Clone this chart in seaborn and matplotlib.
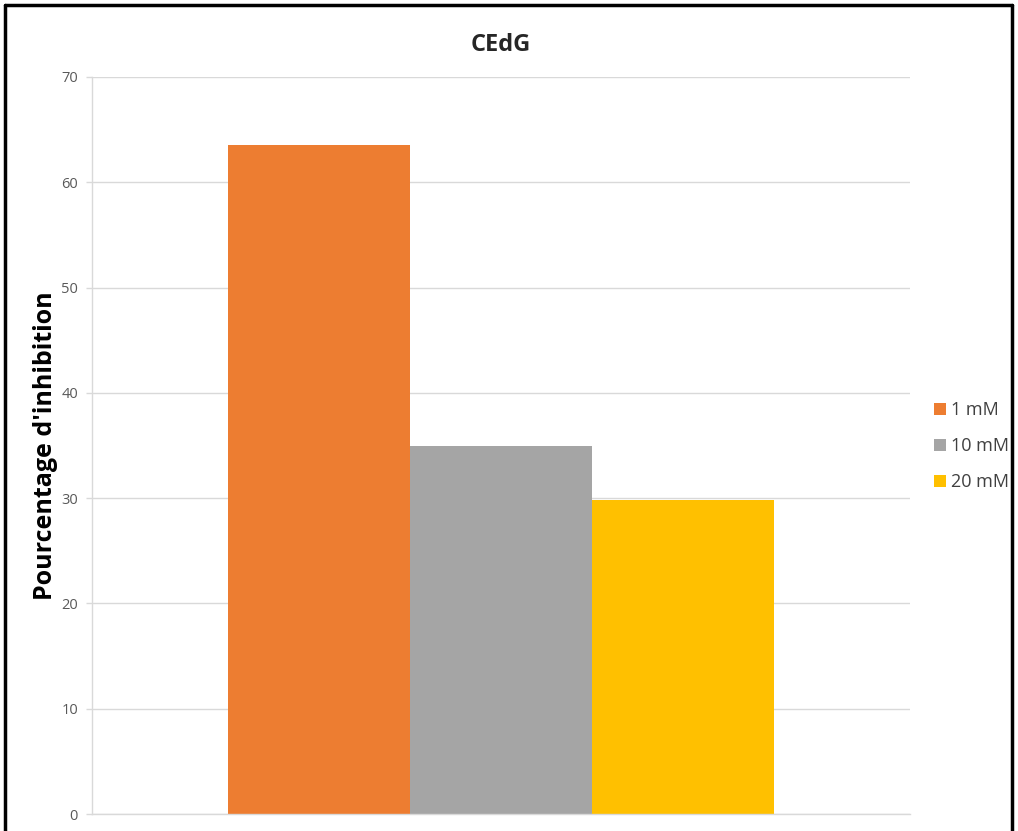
import matplotlib
matplotlib.use("Agg")
import matplotlib.pyplot as plt
import seaborn as sns
import pandas as pd
from matplotlib.lines import Line2D

title = "CEdG"
ylabel = "Pourcentage d'inhibition"
concentrations = ["1 mM", "10 mM", "20 mM"]
values = [63.5, 35.0, 29.8]
colors = ["#ED7D31", "#A5A5A5", "#FFC000"]
yticks = [0, 10, 20, 30, 40, 50, 60, 70]

df = pd.DataFrame({"grp": [title] * len(values), "conc": concentrations, "val": values})

sns.set_theme(style="white")
plt.rcParams['font.family'] = ['Open Sans', 'DejaVu Sans']

fig = plt.figure(figsize=(10.18, 8.31), dpi=100)
ax = fig.add_axes([92/1018, 17/831, (910-92)/1018, (814-77)/831])

sns.barplot(data=df, x="grp", y="val", hue="conc", palette=colors, width=0.667,
            saturation=1, ax=ax, edgecolor="none", linewidth=0, dodge=True)

ax.set_xlim(-0.5, 0.5)
ax.set_ylim(0, 70)
ax.set_yticks(yticks)
ax.set_yticklabels([str(t) for t in yticks], fontsize=10.5, color="#595959")
ax.set_xticks([])
ax.set_xlabel("")
ax.set_ylabel(ylabel, fontsize=18, fontweight="bold", color="black")
ax.yaxis.set_label_coords(-0.041, 0.5)
ax.yaxis.grid(True, color="#D9D9D9", linewidth=1)
ax.set_axisbelow(True)
for s in ["top", "right"]:
    ax.spines[s].set_visible(False)
for s in ["left", "bottom"]:
    ax.spines[s].set_color("#D9D9D9")
    ax.spines[s].set_linewidth(1)
ax.tick_params(axis="y", length=4, width=1, color="#D9D9D9", left=True, pad=6)
ax.set_title(title, fontsize=17, fontweight="bold", pad=19)

leg = ax.legend(loc="center left", bbox_to_anchor=(918/1018, (831-446)/831),
                bbox_transform=fig.transFigure, frameon=False, fontsize=13,
                handlelength=0.65, handleheight=0.65, handletextpad=0.3,
                labelspacing=1.0, title=None)
for t in leg.get_texts():
    t.set_color("#404040")

# figure frame (left, top, right)
for xs, ys in [([5/1018, 5/1018], [0, 1 - 5/831]),
               ([5/1018, 1012/1018], [1 - 5/831, 1 - 5/831]),
               ([1012/1018, 1012/1018], [0, 1 - 5/831])]:
    fig.add_artist(Line2D(xs, ys, color="black", linewidth=2.5, transform=fig.transFigure))

fig.savefig("out.png", dpi=100, facecolor="white")
